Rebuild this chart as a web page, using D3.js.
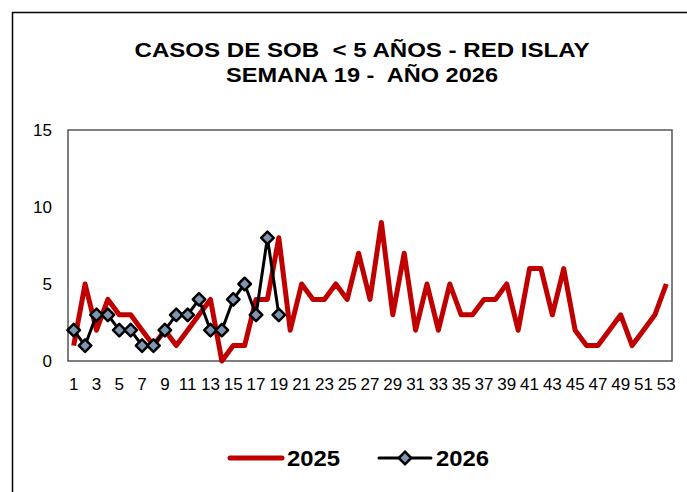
<!DOCTYPE html>
<html>
<head>
<meta charset="utf-8">
<script src="https://cdn.jsdelivr.net/npm/d3@7"></script>
<style>
  body { margin: 0; background: #fff; }
  svg { display: block; font-family: "Liberation Sans", Arial, sans-serif; }
  svg text { white-space: pre; }
</style>
</head>
<body>
<div id="chart"></div>
<script>
const weeks = d3.range(1, 54);
const cases2025 = [1, 5, 2, 4, 3, 3, 2, 1, 2, 1, 2, 3, 4, 0, 1, 1, 4, 4, 8, 2,
  5, 4, 4, 5, 4, 7, 4, 9, 3, 7, 2, 5, 2, 5, 3, 3, 4, 4, 5, 2,
  6, 6, 3, 6, 2, 1, 1, 2, 3, 1, 2, 3, 5];
const cases2026 = [2, 1, 3, 3, 2, 2, 1, 1, 2, 3, 3, 4, 2, 2, 4, 5, 3, 8, 3];
const yTicks = [0, 5, 10, 15];
const titleLines = ["CASOS DE SOB  < 5 AÑOS - RED ISLAY", "SEMANA 19 -  AÑO 2026"];

const width = 687, height = 492;
const margin = { top: 130, right: 15, bottom: 131, left: 68 };
const plotW = width - margin.left - margin.right;
const plotH = height - margin.top - margin.bottom;

const svg = d3.select("#chart").append("svg")
  .attr("width", width)
  .attr("height", height);

// outer chart frame
svg.append("rect")
  .attr("x", 12.5).attr("y", 12.5)
  .attr("width", width + 20).attr("height", height + 20)
  .attr("fill", "none")
  .attr("stroke", "#000")
  .attr("stroke-width", 1.5);

// title (the original is a bit wider than Arial, so stretch it)
const titleWidths = [455, 272];
svg.selectAll(".title")
  .data(titleLines)
  .join("text")
  .attr("class", "title")
  .attr("x", 362)
  .attr("y", (d, i) => 57 + i * 25)
  .attr("text-anchor", "middle")
  .attr("font-size", 21).attr("font-weight", "bold")
  .attr("textLength", (d, i) => titleWidths[i])
  .attr("lengthAdjust", "spacingAndGlyphs")
  .text(d => d);

const g = svg.append("g").attr("transform", `translate(${margin.left},${margin.top})`);

const x = d3.scaleBand().domain(weeks).range([0, plotW]);
const y = d3.scaleLinear().domain([0, 15]).range([plotH, 0]);
const cx = d => x(d) + x.bandwidth() / 2;

// plot area box
g.append("rect")
  .attr("width", plotW).attr("height", plotH)
  .attr("fill", "#fff")
  .attr("stroke", "#555")
  .attr("stroke-width", 1.5);

const yAxis = g.append("g")
  .call(d3.axisLeft(y).tickValues(yTicks).tickSize(0).tickPadding(16));
yAxis.select(".domain").remove();
yAxis.selectAll("text").attr("font-size", 17).attr("font-family", "Liberation Sans, Arial, sans-serif").attr("fill", "#000");

const xAxis = g.append("g")
  .attr("transform", `translate(0,${plotH})`)
  .call(d3.axisBottom(x).tickValues(weeks.filter(w => w % 2 === 1)).tickSize(0).tickPadding(17));
xAxis.select(".domain").remove();
xAxis.selectAll("text").attr("font-size", 17).attr("font-family", "Liberation Sans, Arial, sans-serif").attr("fill", "#000");

const line = d3.line()
  .x((d, i) => cx(weeks[i]))
  .y(d => y(d));

g.append("path")
  .datum(cases2025)
  .attr("d", line)
  .attr("fill", "none")
  .attr("stroke", "#C00000")
  .attr("stroke-width", 5)
  .attr("stroke-linejoin", "round");

g.append("path")
  .datum(cases2026)
  .attr("d", line)
  .attr("fill", "none")
  .attr("stroke", "#000")
  .attr("stroke-width", 3)
  .attr("stroke-linejoin", "round");

const diamond = d3.symbol().type(d3.symbolDiamond2).size(100);

g.selectAll(".m2026")
  .data(cases2026)
  .join("path")
  .attr("class", "m2026")
  .attr("d", diamond)
  .attr("transform", (d, i) => `translate(${cx(weeks[i])},${y(d)})`)
  .attr("fill", "#7F96B2")
  .attr("stroke", "#000")
  .attr("stroke-width", 2.5)
  .attr("stroke-linejoin", "round");

// legend
const leg = svg.append("g").attr("transform", "translate(0,458)");
leg.append("line")
  .attr("x1", 230).attr("x2", 282)
  .attr("stroke", "#C00000").attr("stroke-width", 5).attr("stroke-linecap", "round");
leg.append("text")
  .attr("x", 287).attr("y", 8)
  .attr("font-size", 22).attr("font-weight", "bold")
  .attr("textLength", 53).attr("lengthAdjust", "spacingAndGlyphs")
  .text("2025");
leg.append("line")
  .attr("x1", 379).attr("x2", 431)
  .attr("stroke", "#000").attr("stroke-width", 3).attr("stroke-linecap", "round");
leg.append("path")
  .attr("d", diamond)
  .attr("transform", "translate(405,0)")
  .attr("fill", "#7F96B2").attr("stroke", "#000").attr("stroke-width", 2.5);
leg.append("text")
  .attr("x", 436).attr("y", 8)
  .attr("font-size", 22).attr("font-weight", "bold")
  .attr("textLength", 53).attr("lengthAdjust", "spacingAndGlyphs")
  .text("2026");
</script>
</body>
</html>
